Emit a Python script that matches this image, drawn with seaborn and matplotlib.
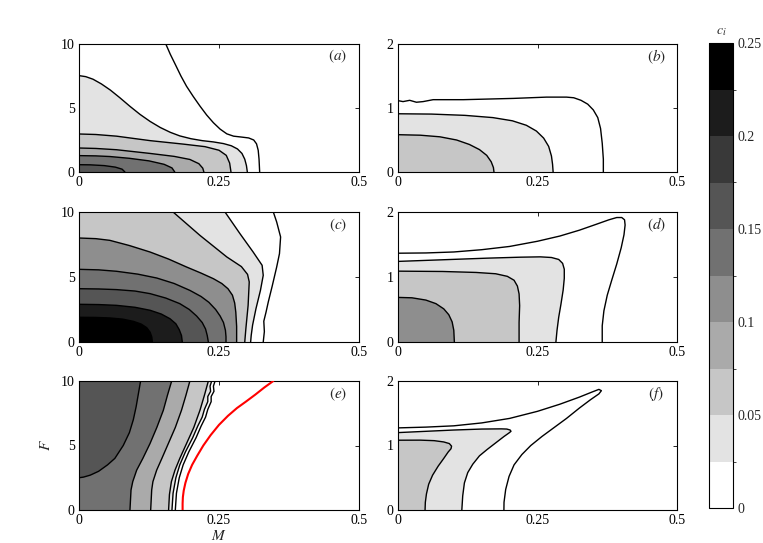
import numpy as np
import matplotlib
matplotlib.use("Agg")
import matplotlib.pyplot as plt
import matplotlib.colors as mcolors
import seaborn as sns

# contour curves: level of the region inside, M points, F points
a_levels = [0.0, 0.025, 0.05, 0.075, 0.125, 0.15]
a_m = [[0.155, 0.163, 0.172, 0.182, 0.192, 0.204, 0.216, 0.228, 0.240, 0.252, 0.264, 0.276, 0.290, 0.303, 0.312, 0.317, 0.320, 0.3215, 0.3226],
       [0, 0.012, 0.025, 0.040, 0.056, 0.073, 0.091, 0.109, 0.127, 0.145, 0.163, 0.180, 0.200, 0.220, 0.240, 0.258, 0.272, 0.283, 0.291, 0.296, 0.299, 0.3006],
       [0, 0.03, 0.067, 0.127, 0.186, 0.225, 0.250, 0.263, 0.269, 0.2714],
       [0, 0.03, 0.067, 0.127, 0.17, 0.198, 0.214, 0.221, 0.223],
       [0, 0.03, 0.055, 0.09, 0.125, 0.152, 0.166, 0.171],
       [0, 0.02, 0.045, 0.065, 0.077, 0.082]]
a_f = [[10, 9.2, 8.4, 7.5, 6.7, 5.9, 5.15, 4.45, 3.85, 3.35, 2.98, 2.80, 2.73, 2.66, 2.50, 2.2, 1.7, 1.0, 0],
       [7.53, 7.45, 7.25, 6.88, 6.4, 5.8, 5.13, 4.5, 3.95, 3.48, 3.1, 2.82, 2.6, 2.45, 2.35, 2.22, 2.05, 1.8, 1.45, 1.0, 0.5, 0],
       [2.97, 2.93, 2.80, 2.45, 2.18, 1.98, 1.70, 1.30, 0.70, 0],
       [1.875, 1.84, 1.74, 1.45, 1.22, 0.98, 0.65, 0.30, 0],
       [1.28, 1.26, 1.21, 1.07, 0.87, 0.60, 0.32, 0],
       [0.57, 0.56, 0.50, 0.38, 0.22, 0]]

b_levels = [0.0, 0.025, 0.05]
b_m = [[0, 0.009, 0.021, 0.033, 0.045, 0.063, 0.117, 0.207, 0.266, 0.302, 0.315, 0.328, 0.340, 0.350, 0.358, 0.363, 0.366, 0.368, 0.368],
       [0, 0.06, 0.12, 0.17, 0.205, 0.230, 0.248, 0.261, 0.270, 0.275, 0.277, 0.278],
       [0, 0.04, 0.075, 0.105, 0.128, 0.146, 0.159, 0.167, 0.171, 0.172]]
b_f = [[1.115, 1.10, 1.12, 1.09, 1.10, 1.13, 1.13, 1.15, 1.17, 1.17, 1.16, 1.12, 1.06, 0.97, 0.85, 0.68, 0.45, 0.2, 0],
       [0.91, 0.905, 0.885, 0.85, 0.80, 0.73, 0.64, 0.53, 0.40, 0.25, 0.12, 0],
       [0.583, 0.575, 0.55, 0.50, 0.43, 0.35, 0.26, 0.16, 0.07, 0]]

c_levels = [0.0, 0.025, 0.05, 0.1, 0.125, 0.15, 0.2, 0.225]
c_m = [[0.347, 0.353, 0.360, 0.358, 0.353, 0.345, 0.338, 0.334, 0.330, 0.331, 0.329],
       [0.2607, 0.2875, 0.311, 0.327, 0.329, 0.324, 0.316, 0.310, 0.3075, 0.3065],
       [0.168, 0.216, 0.264, 0.290, 0.301, 0.304, 0.302, 0.298, 0.296],
       [0, 0.03, 0.055, 0.09, 0.127, 0.16, 0.192, 0.218, 0.240, 0.255, 0.266, 0.274, 0.278, 0.280, 0.2815, 0.2815],
       [0, 0.035, 0.067, 0.105, 0.139, 0.170, 0.198, 0.218, 0.232, 0.244, 0.252, 0.258, 0.2615, 0.2625, 0.2625],
       [0, 0.035, 0.067, 0.100, 0.127, 0.155, 0.180, 0.197, 0.210, 0.220, 0.226, 0.229, 0.231],
       [0, 0.035, 0.067, 0.100, 0.127, 0.147, 0.1625, 0.173, 0.179, 0.183, 0.1845],
       [0, 0.03, 0.055, 0.078, 0.097, 0.111, 0.121, 0.127, 0.130, 0.131]]
c_f = [[10, 9.23, 8.08, 6.8, 5.77, 4.3, 3.08, 2.3, 1.6, 0.8, 0],
       [10, 8.33, 6.92, 5.9, 5.13, 3.97, 2.56, 1.3, 0.5, 0],
       [10, 8.2, 6.54, 5.8, 5.2, 4.62, 2.82, 1.03, 0],
       [8.0, 7.95, 7.82, 7.42, 6.92, 6.38, 5.77, 5.3, 4.87, 4.5, 4.1, 3.6, 3.0, 2.3, 1.2, 0],
       [5.59, 5.55, 5.44, 5.22, 4.92, 4.5, 3.97, 3.5, 3.05, 2.5, 2.0, 1.5, 0.9, 0.4, 0],
       [4.1, 4.08, 4.03, 3.92, 3.72, 3.38, 2.95, 2.5, 2.0, 1.5, 1.0, 0.5, 0],
       [2.9, 2.88, 2.82, 2.67, 2.44, 2.15, 1.79, 1.4, 0.95, 0.5, 0],
       [1.9, 1.89, 1.85, 1.76, 1.59, 1.38, 1.10, 0.75, 0.38, 0]]

d_levels = [0.0, 0.025, 0.05, 0.1]
d_m = [[0, 0.05, 0.1, 0.15, 0.2, 0.25, 0.29, 0.325, 0.355, 0.378, 0.392, 0.401, 0.406, 0.407, 0.405, 0.400, 0.392, 0.383, 0.375, 0.369, 0.366, 0.366],
       [0, 0.08, 0.16, 0.22, 0.255, 0.275, 0.288, 0.295, 0.298, 0.298, 0.296, 0.292, 0.288, 0.285, 0.283],
       [0, 0.08, 0.14, 0.175, 0.196, 0.208, 0.214, 0.217, 0.218, 0.217, 0.217],
       [0, 0.025, 0.05, 0.068, 0.082, 0.091, 0.097, 0.100, 0.101]]
d_f = [[1.366, 1.37, 1.385, 1.42, 1.47, 1.55, 1.63, 1.72, 1.81, 1.88, 1.915, 1.915, 1.88, 1.80, 1.65, 1.45, 1.20, 0.95, 0.72, 0.48, 0.25, 0],
       [1.24, 1.265, 1.29, 1.305, 1.31, 1.30, 1.27, 1.21, 1.12, 0.98, 0.80, 0.58, 0.38, 0.18, 0],
       [1.09, 1.085, 1.07, 1.05, 1.01, 0.95, 0.86, 0.74, 0.56, 0.3, 0],
       [0.686, 0.68, 0.645, 0.59, 0.51, 0.42, 0.31, 0.18, 0]]

e_levels = [0.0, 0.025, 0.05, 0.075, 0.125, 0.15]
e_m = [[0.243, 0.240, 0.241, 0.236, 0.236, 0.230, 0.226, 0.218, 0.209, 0.196, 0.186, 0.179, 0.174, 0.172],
       [0.237, 0.234, 0.235, 0.230, 0.230, 0.224, 0.220, 0.212, 0.203, 0.190, 0.180, 0.173, 0.168, 0.166],
       [0.231, 0.224, 0.216, 0.205, 0.192, 0.180, 0.1714, 0.165, 0.1615, 0.160],
       [0.198, 0.191, 0.183, 0.172, 0.1595, 0.148, 0.1387, 0.132, 0.1298, 0.128],
       [0.1655, 0.158, 0.1506, 0.139, 0.1268, 0.114, 0.103, 0.096, 0.0929, 0.091],
       [0.110, 0.106, 0.102, 0.097, 0.090, 0.079, 0.064, 0.051, 0.035, 0.020, 0.008, 0]]
e_f = [[10, 9.6, 9.2, 8.8, 8.4, 7.8, 7.2, 6.5, 5.6, 4.5, 3.5, 2.5, 1.3, 0],
       [10, 9.6, 9.2, 8.8, 8.4, 7.8, 7.2, 6.5, 5.6, 4.5, 3.5, 2.5, 1.3, 0],
       [10, 8.9, 7.73, 6.4, 5.15, 4.0, 3.09, 2.2, 1.2, 0],
       [10, 8.9, 7.73, 6.4, 5.15, 4.0, 3.09, 2.2, 1.55, 0],
       [10, 8.9, 7.73, 6.4, 5.15, 4.0, 3.09, 2.2, 1.55, 0],
       [10, 9.0, 8.0, 7.0, 6.0, 5.0, 4.0, 3.5, 3.0, 2.7, 2.55, 2.5]]
e_red_m = [0.185, 0.185, 0.1855, 0.187, 0.190, 0.195, 0.202, 0.211, 0.222, 0.235, 0.250, 0.266, 0.282, 0.298, 0.315, 0.331, 0.347]
e_red_f = [0, 0.5, 1.0, 1.5, 2.1, 2.8, 3.5, 4.2, 5.0, 5.8, 6.6, 7.3, 7.9, 8.4, 8.95, 9.5, 10]

f_levels = [0.0, 0.025, 0.05]
f_m = [[0, 0.05, 0.1, 0.15, 0.2, 0.25, 0.29, 0.325, 0.348, 0.360, 0.3645, 0.360, 0.345, 0.325, 0.302, 0.280, 0.258, 0.238, 0.222, 0.208, 0.199, 0.193, 0.190, 0.1898],
       [0, 0.05, 0.10, 0.15, 0.185, 0.195, 0.201, 0.2025, 0.199, 0.190, 0.175, 0.160, 0.146, 0.134, 0.125, 0.119, 0.116, 0.1144],
       [0, 0.04, 0.065, 0.082, 0.092, 0.096, 0.095, 0.090, 0.082, 0.072, 0.062, 0.055, 0.051, 0.049, 0.0485]]
f_f = [[1.273, 1.285, 1.305, 1.35, 1.42, 1.53, 1.64, 1.75, 1.83, 1.87, 1.85, 1.80, 1.71, 1.58, 1.42, 1.28, 1.14, 1.00, 0.86, 0.70, 0.52, 0.32, 0.12, 0],
       [1.20, 1.22, 1.24, 1.255, 1.258, 1.255, 1.24, 1.22, 1.195, 1.14, 1.04, 0.94, 0.84, 0.71, 0.58, 0.42, 0.22, 0],
       [1.082, 1.083, 1.075, 1.055, 1.03, 0.99, 0.95, 0.90, 0.80, 0.68, 0.54, 0.40, 0.25, 0.12, 0]]

x_ticks = [0, 0.25, 0.5]
x_ticklabels = ["0", "0.25", "0.5"]
cbar_ticks = [0, 0.05, 0.1, 0.15, 0.2, 0.25]
cbar_ticklabels = ["0", "0.05", "0.1", "0.15", "0.2", "0.25"]
bounds = np.linspace(0, 0.25, 11)

sns.set_style("white")
plt.rcParams['font.family'] = ['Liberation Serif', 'DejaVu Serif']
plt.rcParams['mathtext.fontset'] = 'stix'

cmap = plt.get_cmap('gray_r').resampled(10)
norm = mcolors.BoundaryNorm(bounds, 10)

fig = plt.figure(figsize=(7.63, 5.43), dpi=100)
W, H = 763.0, 543.0


def add_panel(px, py, pw, ph):
    return fig.add_axes([px / W, 1 - (py + ph) / H, pw / W, ph / H])


def draw_panel(ax, levels, ms, fs, fmax, yticks, tag):
    for lev, m, f in zip(levels, ms, fs):
        pm = list(m) + [0, 0]
        pf = list(f) + [f[-1], f[0]]
        ax.fill(pm, pf, color=cmap(norm(lev + 0.0125)), lw=0, zorder=1)
    for m, f in zip(ms, fs):
        sns.lineplot(x=m, y=f, sort=False, estimator=None, color='k', lw=1.0, ax=ax, zorder=3)
    ax.set_xlim(0, 0.5)
    ax.set_ylim(0, fmax)
    ax.set_xticks(x_ticks)
    ax.set_xticklabels(x_ticklabels)
    ax.set_yticks(yticks)
    ax.set_yticklabels([str(t) for t in yticks])
    ax.set_xlabel('')
    ax.set_ylabel('')
    ax.tick_params(direction='in', top=True, right=True, length=3, width=0.6,
                   labelsize=10, colors='k', pad=3)
    for s in ax.spines.values():
        s.set_color('k')
        s.set_linewidth(0.8)
    ax.text(0.925, 0.9, tag, transform=ax.transAxes, ha='center', va='center', fontsize=11)


ax_a = add_panel(79, 44, 280, 128)
ax_b = add_panel(398, 44, 279, 128)
ax_c = add_panel(79, 212, 280, 130)
ax_d = add_panel(398, 212, 279, 130)
ax_e = add_panel(79, 381, 280, 129)
ax_f = add_panel(398, 381, 279, 129)

draw_panel(ax_a, a_levels, a_m, a_f, 10, [0, 5, 10], '$(a)$')
draw_panel(ax_b, b_levels, b_m, b_f, 2, [0, 1, 2], '$(b)$')
draw_panel(ax_c, c_levels, c_m, c_f, 10, [0, 5, 10], '$(c)$')
draw_panel(ax_d, d_levels, d_m, d_f, 2, [0, 1, 2], '$(d)$')
draw_panel(ax_e, e_levels, e_m, e_f, 10, [0, 5, 10], '$(e)$')
draw_panel(ax_f, f_levels, f_m, f_f, 2, [0, 1, 2], '$(f)$')

sns.lineplot(x=e_red_m, y=e_red_f, sort=False, estimator=None, color='#ff0000', lw=1.5, ax=ax_e, zorder=4)
ax_e.set_xlabel('$M$', fontsize=11, labelpad=1)
ax_e.set_ylabel('$F$', fontsize=11, labelpad=6)

cax = add_panel(709, 43, 24, 465)
sm = plt.cm.ScalarMappable(cmap=cmap, norm=norm)
cb = fig.colorbar(sm, cax=cax, boundaries=bounds, ticks=cbar_ticks)
cb.ax.set_yticklabels(cbar_ticklabels)
cb.ax.tick_params(direction='in', length=3, width=0.6, labelsize=10, left=True, right=True, pad=3)
cb.outline.set_linewidth(0.8)
cb.outline.set_edgecolor('k')
cax.set_title('$c_i$', fontsize=10, pad=6)

fig.savefig('out.png', dpi=100)
